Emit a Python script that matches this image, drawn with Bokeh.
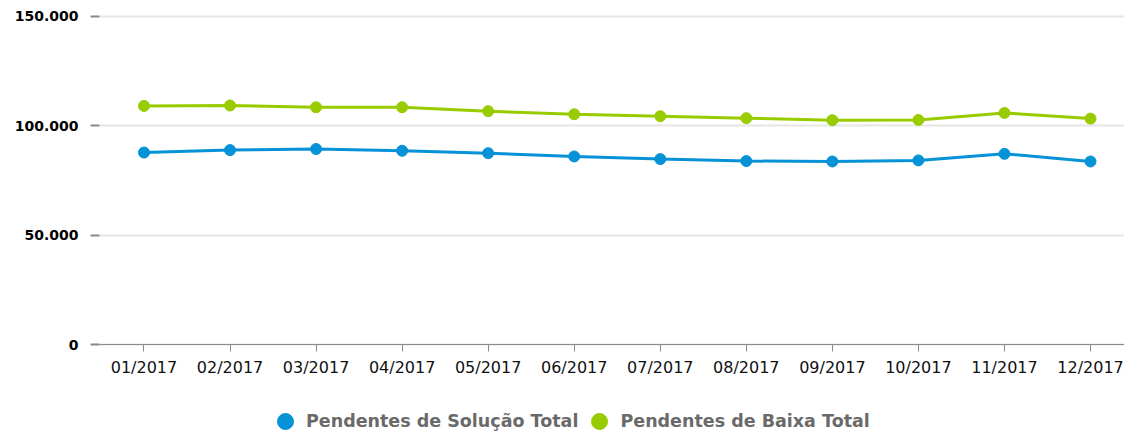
from bokeh.plotting import figure
from bokeh.models import Range1d, FixedTicker, Legend, LegendItem
from bokeh.embed import file_html
from bokeh.resources import INLINE

months = ["01/2017", "02/2017", "03/2017", "04/2017", "05/2017", "06/2017",
          "07/2017", "08/2017", "09/2017", "10/2017", "11/2017", "12/2017"]
solucao = [87800, 88900, 89400, 88600, 87500, 86000, 84800, 83900, 83700, 84200, 87200, 83700]
baixa = [109100, 109300, 108500, 108500, 106700, 105300, 104400, 103500, 102600, 102700, 105900, 103300]
y_ticks = [0, 50000, 100000, 150000]
y_labels = ["0", "50.000", "100.000", "150.000"]

BLUE = "#0592d6"
GREEN = "#99cc00"

xs = list(range(len(months)))

p = figure(width=1124, height=434, output_backend="svg", toolbar_location=None,
           x_range=Range1d(-0.517, 11.395), y_range=Range1d(-41158, 151829),
           min_border_left=99, min_border_right=0, min_border_top=12, min_border_bottom=0)
p.outline_line_color = None
p.background_fill_color = "white"
p.border_fill_color = "white"

r1l = p.line(xs, solucao, line_color=BLUE, line_width=3)
r1s = p.scatter(xs, solucao, size=11, fill_color=BLUE, line_color=BLUE)
r2l = p.line(xs, baixa, line_color=GREEN, line_width=3)
r2s = p.scatter(xs, baixa, size=11, fill_color=GREEN, line_color=GREEN)

# x axis drawn at value 0
p.xaxis.fixed_location = 0
p.xaxis.ticker = FixedTicker(ticks=xs)
p.xaxis.major_label_overrides = {i: m for i, m in enumerate(months)}
p.xaxis.minor_tick_line_color = None
p.xaxis.major_tick_in = 0
p.xaxis.major_tick_out = 7
p.xaxis.major_tick_line_color = "#8a8a8a"
p.xaxis.axis_line_color = "#8a8a8a"
p.xaxis.axis_line_width = 1
p.xaxis.major_label_text_font = "DejaVu Sans"
p.xaxis.major_label_text_font_size = "16px"
p.xaxis.major_label_text_color = "#111111"
p.xaxis.major_label_standoff = 6
p.xgrid.grid_line_color = None

# y axis
p.yaxis.ticker = FixedTicker(ticks=y_ticks)
p.yaxis.major_label_overrides = {t: l for t, l in zip(y_ticks, y_labels)}
p.yaxis.minor_tick_line_color = None
p.yaxis.axis_line_color = None
p.yaxis.major_tick_in = 0
p.yaxis.major_tick_out = 9
p.yaxis.major_tick_line_color = "#8a8a8a"
p.yaxis.major_tick_line_width = 2
p.yaxis.major_label_text_font = "DejaVu Sans"
p.yaxis.major_label_text_font_style = "bold"
p.yaxis.major_label_text_font_size = "14px"
p.yaxis.major_label_text_color = "#000000"
p.yaxis.major_label_standoff = 12
p.ygrid.grid_line_color = "#e6e6e6"
p.ygrid.grid_line_width = 2

legend = Legend(items=[
    LegendItem(label="Pendentes de Solução Total", renderers=[r1s]),
    LegendItem(label="Pendentes de Baixa Total", renderers=[r2s]),
], orientation="horizontal", location=(166, -7))
legend.label_text_font = "DejaVu Sans"
legend.label_text_font_style = "bold"
legend.label_text_font_size = "17.5px"
legend.label_text_color = "#6a6a6a"
legend.border_line_color = None
legend.background_fill_alpha = 0
legend.glyph_width = 40
legend.glyph_height = 40
legend.label_standoff = 1
legend.spacing = 1
legend.margin = 0
legend.padding = 0
p.add_layout(legend, "center")

open("out.html", "w").write(file_html(p, INLINE))
